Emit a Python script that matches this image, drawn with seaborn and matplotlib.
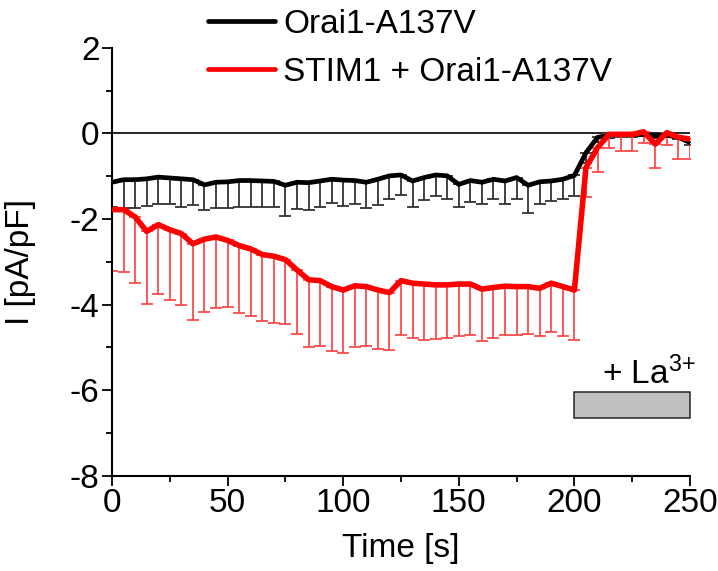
import matplotlib
matplotlib.use("Agg")
import matplotlib.pyplot as plt
import seaborn as sns
import pandas as pd
import numpy as np

# time points (s), one every 5 s
time_s = list(range(0, 255, 5))

orai_mean = [-1.14, -1.08, -1.08, -1.06, -1.02, -1.04, -1.06, -1.08, -1.20, -1.14,
             -1.13, -1.10, -1.10, -1.11, -1.12, -1.21, -1.14, -1.15, -1.11, -1.07,
             -1.09, -1.10, -1.14, -1.07, -0.99, -0.97, -1.11, -1.03, -0.97, -0.99,
             -1.19, -1.10, -1.14, -1.07, -1.11, -1.03, -1.21, -1.13, -1.11, -1.07,
             -0.98, -0.45, -0.09, -0.04, -0.02, -0.02, -0.02, -0.05, -0.04, -0.09,
             -0.21]
orai_low = [-1.72, -1.74, -1.75, -1.70, -1.66, -1.66, -1.71, -1.68, -1.80, -1.74,
            -1.75, -1.71, -1.71, -1.71, -1.72, -1.92, -1.76, -1.78, -1.71, -1.62,
            -1.70, -1.66, -1.74, -1.68, -1.53, -1.43, -1.71, -1.56, -1.46, -1.53,
            -1.71, -1.60, -1.64, -1.54, -1.64, -1.54, -1.86, -1.66, -1.58, -1.53,
            -1.46, -0.70, -0.20, -0.10, -0.08, -0.08, -0.07, -0.10, -0.09, -0.14,
            -0.26]

stim_mean = [-1.78, -1.78, -1.95, -2.29, -2.13, -2.25, -2.34, -2.58, -2.47, -2.42,
             -2.50, -2.62, -2.70, -2.83, -2.87, -2.95, -3.19, -3.42, -3.44, -3.58,
             -3.66, -3.56, -3.58, -3.66, -3.72, -3.44, -3.50, -3.52, -3.54, -3.54,
             -3.52, -3.52, -3.64, -3.60, -3.57, -3.58, -3.58, -3.62, -3.50, -3.58,
             -3.66, -0.80, -0.33, -0.02, -0.02, -0.02, 0.04, -0.25, 0.02, -0.09,
             -0.13]
stim_low = [-3.21, -3.24, -3.50, -3.99, -3.75, -3.89, -4.02, -4.36, -4.17, -4.09,
            -4.06, -4.20, -4.26, -4.38, -4.42, -4.46, -4.69, -5.00, -4.97, -5.09,
            -5.14, -4.99, -4.97, -5.05, -5.07, -4.70, -4.79, -4.82, -4.81, -4.78,
            -4.74, -4.71, -4.85, -4.79, -4.71, -4.70, -4.68, -4.74, -4.64, -4.74,
            -4.82, -1.48, -0.89, -0.35, -0.41, -0.41, -0.23, -0.80, -0.27, -0.60,
            -0.60]

labels = ["Orai1-A137V", "STIM1 + Orai1-A137V"]
colors = ["black", "#ff0000"]
err_colors = ["#333333", "#ff4c4c"]
la_window = (200, 250)
la_level = (-6.05, -6.65)

df = pd.DataFrame({
    "t": time_s * 2,
    "I": orai_mean + stim_mean,
    "low": orai_low + stim_low,
    "group": [labels[0]] * len(time_s) + [labels[1]] * len(time_s),
})

sns.set_style("ticks")
plt.rcParams["font.family"] = ["Liberation Sans", "DejaVu Sans"]
plt.rcParams["mathtext.fontset"] = "custom"
plt.rcParams["mathtext.rm"] = "Liberation Sans"
plt.rcParams["mathtext.it"] = "Liberation Sans"
plt.rcParams["axes.unicode_minus"] = False
for k in ["text.color", "axes.labelcolor", "xtick.color", "ytick.color", "axes.edgecolor"]:
    plt.rcParams[k] = "black"

fig = plt.figure(figsize=(7.18, 5.71), dpi=100)
ax = fig.add_axes([0.156, 0.167, 0.805, 0.749])

ax.axhline(0, color="black", lw=1.2, zorder=1)

for lab, ec in zip(labels, err_colors):
    sub = df[df.group == lab]
    err = (sub.I - sub.low).values
    ax.errorbar(sub.t, sub.I, yerr=[err, np.zeros_like(err)], fmt="none",
                ecolor=ec, elinewidth=1.3, capsize=4, capthick=1.3, zorder=2)

sns.lineplot(data=df, x="t", y="I", hue="group", palette=colors,
             hue_order=labels, ax=ax, legend=False, zorder=3)
ax.lines[-2].set_linewidth(3.4)
ax.lines[-1].set_linewidth(4.0)

ax.fill_between(la_window, la_level[0], la_level[1], facecolor="#c0c0c0",
                edgecolor="#333333", lw=1.2, zorder=2)
ax.text(np.mean(la_window) + 7, -5.87, "+ La$^{3{+}}$", ha="center",
        va="baseline", fontsize=24)

ax.set_xlim(0, 250)
ax.set_ylim(-8, 2)
ax.set_xticks(range(0, 251, 50))
ax.set_xticks(range(25, 251, 50), minor=True)
ax.set_yticks(range(-8, 3, 2))
ax.set_yticks(range(-7, 2, 2), minor=True)
sns.despine(ax=ax)
for s in ["left", "bottom"]:
    ax.spines[s].set_linewidth(1.5)
ax.tick_params(which="major", length=7, width=1.3, labelsize=24, pad=2)
ax.tick_params(which="minor", length=4, width=1.3)
ax.set_xlabel("Time [s]", fontsize=24, labelpad=10)
ax.set_ylabel("I [pA/pF]", fontsize=24, labelpad=24)

handles = [plt.Line2D([], [], color=c, lw=3.4) for c in colors]
fig.legend(handles, labels, loc="upper left", bbox_to_anchor=(0.285, 0.99),
           frameon=False, fontsize=24, handlelength=2.0, handletextpad=0.25,
           labelspacing=0.5, borderpad=0.1, borderaxespad=0)

fig.savefig("out.png", dpi=100)
